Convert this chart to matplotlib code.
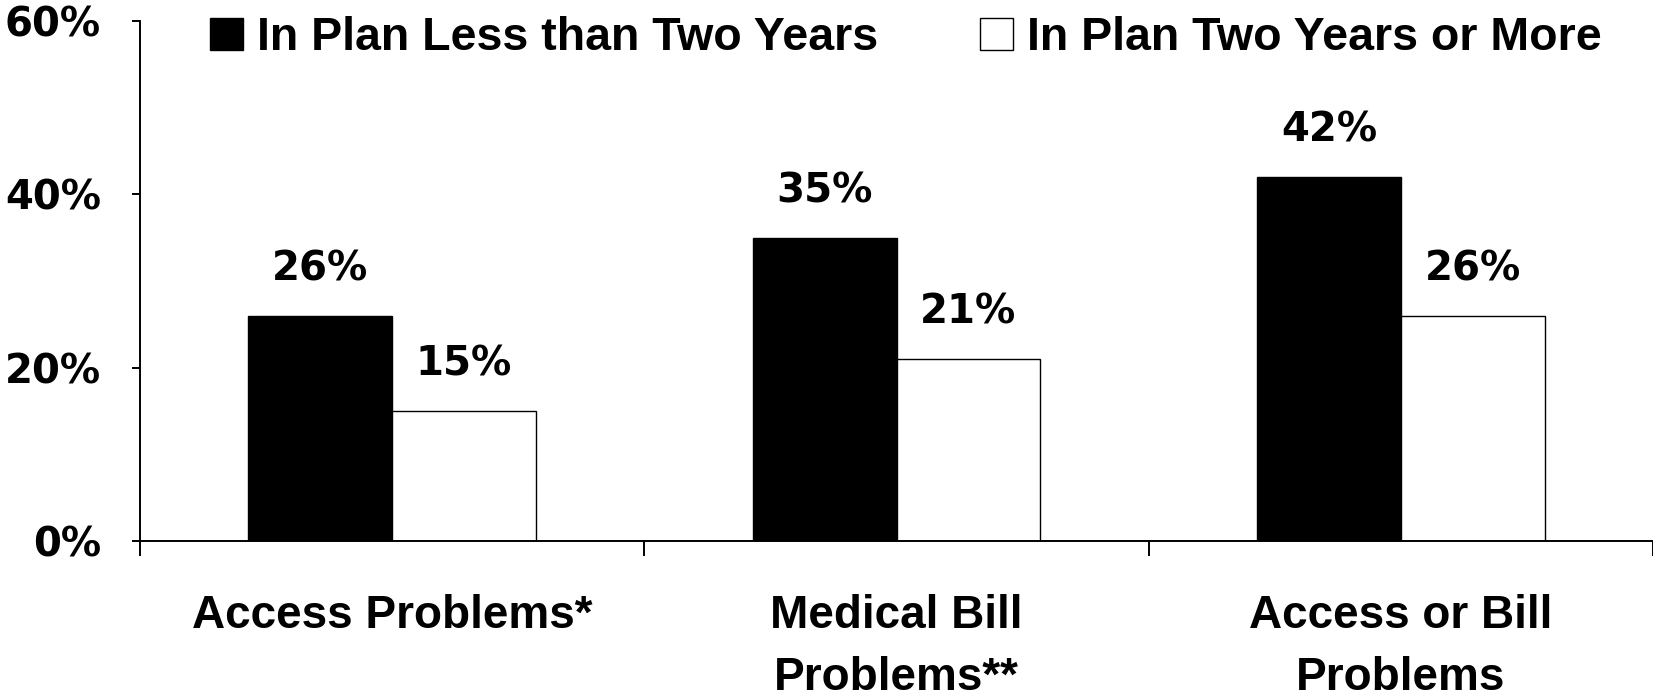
#!/usr/bin/env python3
"""
Bar chart: problems by time in plan
"""
import numpy as np
import matplotlib
matplotlib.use("Agg")
import matplotlib.pyplot as plt

categories = ["Access Problems*", "Medical Bill\nProblems**", "Access or Bill\nProblems"]
series_names = ["In Plan Less than Two Years", "In Plan Two Years or More"]
less_than_two = [26, 35, 42]
two_or_more = [15, 21, 26]
y_ticks = [0, 20, 40, 60]
y_tick_labels = ["0%", "20%", "40%", "60%"]

NUM = ["DejaVu Sans"]
TXT = ["Liberation Sans", "DejaVu Sans"]


def main():
    fig = plt.figure(figsize=(16.53, 7.0), dpi=100)
    ax = fig.add_axes([140 / 1653, 159 / 700, 1 - 140 / 1653, 520 / 700])

    x = np.arange(len(categories)) + 0.5
    width = 0.285
    b1 = ax.bar(x - width / 2, less_than_two, width, color="black",
                edgecolor="black", linewidth=1.0, label=series_names[0])
    b2 = ax.bar(x + width / 2, two_or_more, width, color="white",
                edgecolor="black", linewidth=1.0, label=series_names[1])

    for bars, vals in ((b1, less_than_two), (b2, two_or_more)):
        for rect, v in zip(bars, vals):
            ax.annotate(f"{v}%", (rect.get_x() + rect.get_width() / 2, v),
                        xytext=(0, 19), textcoords="offset points",
                        ha="center", va="bottom", fontsize=29,
                        fontweight="bold", family=NUM)

    ax.set_xlim(0, len(categories))
    ax.set_ylim(0, 60)
    ax.set_yticks(y_ticks)
    ax.set_yticklabels(y_tick_labels, fontsize=29, fontweight="bold", family=NUM)
    ax.tick_params(axis="y", direction="out", length=6, width=1.4, pad=22)

    # category boundaries carry the ticks, labels sit at the centres
    ax.set_xticks(np.arange(len(categories) + 1))
    ax.set_xticklabels([])
    ax.set_xticks(x, minor=True)
    ax.set_xticklabels(categories, minor=True, fontsize=33, fontweight="bold",
                       family=TXT, linespacing=1.55, va="top")
    ax.tick_params(axis="x", which="major", direction="out", length=11, width=1.4)
    ax.tick_params(axis="x", which="minor", length=0, pad=38)

    for side in ("top", "right"):
        ax.spines[side].set_visible(False)
    for side in ("left", "bottom"):
        ax.spines[side].set_linewidth(1.4)

    fig.legend(handles=[b1, b2], loc="upper left", ncol=2,
               bbox_to_anchor=(187 / 1653, 1.01), frameon=False,
               prop={"size": 33.5, "weight": "bold", "family": TXT},
               handlelength=0.7, handleheight=0.7, handletextpad=0.3,
               columnspacing=2.2, borderaxespad=0.1)

    fig.savefig("out.png", dpi=100)


if __name__ == '__main__':
    main()
